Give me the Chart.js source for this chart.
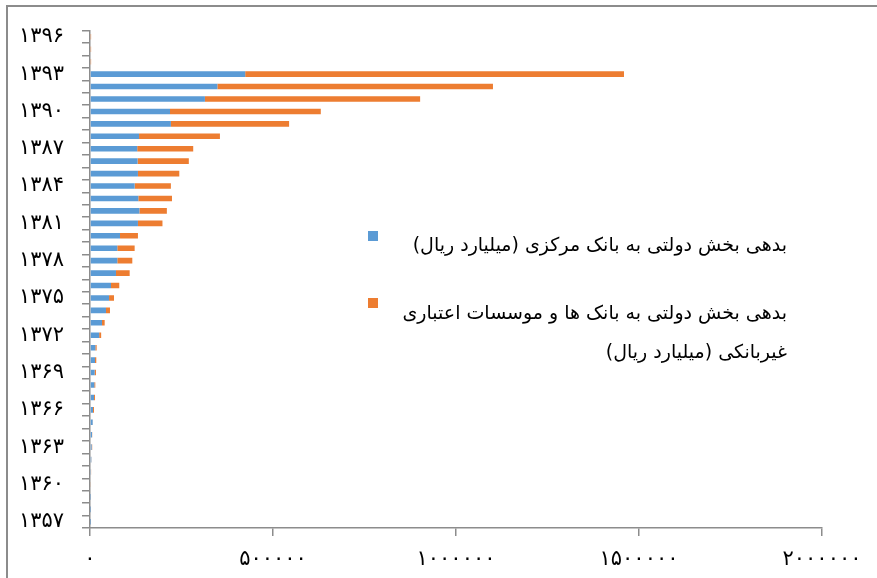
<!DOCTYPE html>
<html>
<head>
<meta charset="utf-8">
<script src="https://cdn.jsdelivr.net/npm/chart.js@4.4.0/dist/chart.umd.min.js"></script>
<style>
  html, body { margin: 0; padding: 0; background: #fff; overflow: hidden; }
  #wrap { position: relative; width: 877px; height: 578px; }
  #frame { position: absolute; left: 6px; top: 5px; width: 1000px; height: 1000px;
           border: 2px solid #8c8c8c; pointer-events: none; }
  .lg-box { position: absolute; width: 10px; height: 10px; }
  .lg-text { position: absolute; right: 90px; direction: rtl; text-align: right;
             white-space: nowrap; font-family: "DejaVu Sans", sans-serif;
             font-size: 19px; line-height: 39px; color: #000; }
</style>
</head>
<body>
<div id="wrap">
  <canvas id="chart" width="877" height="578"></canvas>
  <div id="frame"></div>
  <div id="legend"></div>
</div>
<script>
// سال ها
var years = ['۱۳۵۷','۱۳۵۸','۱۳۵۹','۱۳۶۰','۱۳۶۱','۱۳۶۲','۱۳۶۳','۱۳۶۴','۱۳۶۵','۱۳۶۶',
             '۱۳۶۷','۱۳۶۸','۱۳۶۹','۱۳۷۰','۱۳۷۱','۱۳۷۲','۱۳۷۳','۱۳۷۴','۱۳۷۵','۱۳۷۶',
             '۱۳۷۷','۱۳۷۸','۱۳۷۹','۱۳۸۰','۱۳۸۱','۱۳۸۲','۱۳۸۳','۱۳۸۴','۱۳۸۵','۱۳۸۶',
             '۱۳۸۷','۱۳۸۸','۱۳۸۹','۱۳۹۰','۱۳۹۱','۱۳۹۲','۱۳۹۳','۱۳۹۴','۱۳۹۵','۱۳۹۶'];

// بدهی به بانک مرکزی
var centralBank = [300, 500, 800, 2000, 2700, 3600, 4500, 5500, 7300, 8200,
                   11000, 11800, 12800, 13700, 14600, 25000, 32800, 43700, 52000, 57400,
                   71000, 74600, 74600, 82000, 131000, 135000, 132000, 122000, 131000, 130000,
                   129000, 134000, 221000, 218600, 314000, 348000, 424000, 0, 0, 0];

// بدهی به بانک ها و موسسات اعتباری غیربانکی
var otherBanks = [600, 500, 300, 300, 300, 400, 1500, 500, 500, 2700,
                  2700, 2700, 3500, 3500, 3600, 5500, 7300, 10900, 13600, 22600,
                  37400, 41000, 47400, 49000, 67000, 75000, 92000, 99000, 113000, 140000,
                  153000, 221000, 323000, 412000, 588000, 753000, 1035000, 3000, 3000, 3000];

var xTickLabels = ['۰', '۵۰۰۰۰۰', '۱۰۰۰۰۰۰', '۱۵۰۰۰۰۰', '۲۰۰۰۰۰۰'];

var seriesNames = [
  ['بدهی بخش دولتی به بانک مرکزی (میلیارد ریال)'],
  ['بدهی بخش دولتی به بانک ها و موسسات اعتباری', 'غیربانکی (میلیارد ریال)']
];
var seriesColors = ['#5B9BD5', '#ED7D31'];

var ctx = document.getElementById('chart').getContext('2d');

var chart = new Chart(ctx, {
  type: 'bar',
  data: {
    labels: years,
    datasets: [{
      label: seriesNames[0].join(' '),
      data: centralBank,
      backgroundColor: seriesColors[0],
      barPercentage: 0.45,
      categoryPercentage: 1
    }, {
      label: seriesNames[1].join(' '),
      data: otherBanks,
      backgroundColor: seriesColors[1],
      barPercentage: 0.45,
      categoryPercentage: 1
    }]
  },
  options: {
    indexAxis: 'y',
    responsive: false,
    animation: false,
    layout: { padding: { left: 0, right: 55, top: 26, bottom: 0 } },
    plugins: {
      legend: { display: false },
      tooltip: { enabled: false }
    },
    scales: {
      x: {
        stacked: true,
        min: 0,
        max: 2000000,
        afterFit: function (s) { s.height = 50; },
        ticks: {
          stepSize: 500000,
          color: '#000',
          padding: 11,
          font: { family: 'DejaVu Sans', size: 21 },
          maxRotation: 0,
          callback: function (v, i) { return xTickLabels[i]; }
        },
        grid: { drawOnChartArea: false, drawTicks: true, tickLength: 8, color: '#8c8c8c', lineWidth: 1.5 },
        border: { color: '#8c8c8c', width: 1.5 }
      },
      y: {
        stacked: true,
        reverse: true,
        afterFit: function (s) { s.width = 90; },
        ticks: {
          autoSkip: false,
          color: '#000',
          padding: 18,
          font: { family: 'DejaVu Sans', size: 21 },
          callback: function (v, i) { return i % 3 === 0 ? years[i] : ''; }
        },
        grid: { drawOnChartArea: false, drawTicks: true, tickLength: 8, color: '#8c8c8c', lineWidth: 1.5, offset: true },
        border: { color: '#8c8c8c', width: 1.5 }
      }
    }
  }
});

// لجند
var legendPos = [{ box: 231, text: 225 }, { box: 298, text: 293 }];
var lg = document.getElementById('legend');
chart.data.datasets.forEach(function (ds, i) {
  var b = document.createElement('div');
  b.className = 'lg-box';
  b.style.left = '368px';
  b.style.top = legendPos[i].box + 'px';
  b.style.background = ds.backgroundColor;
  lg.appendChild(b);
  var t = document.createElement('div');
  t.className = 'lg-text';
  t.style.top = legendPos[i].text + 'px';
  t.innerHTML = seriesNames[i].join('<br>');
  lg.appendChild(t);
});
</script>
</body>
</html>
